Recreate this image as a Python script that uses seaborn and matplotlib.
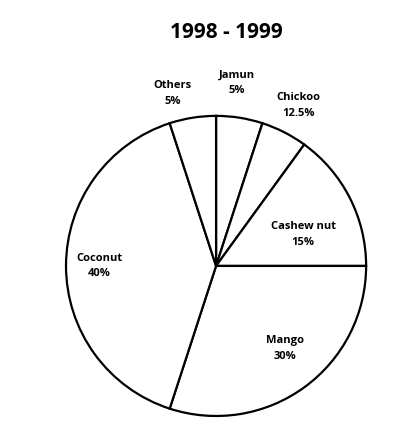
import matplotlib
matplotlib.use("Agg")
import matplotlib.pyplot as plt
import seaborn as sns

# data (slice sizes as drawn, labels as printed)
fruits = ["Jamun", "Chickoo", "Cashew nut", "Mango", "Coconut", "Others"]
shares = [5, 5, 15, 30, 40, 5]
share_labels = ["5%", "12.5%", "15%", "30%", "40%", "5%"]
# label anchor points, in units of pie radius
label_x = [0.14, 0.55, 0.58, 0.46, -0.78, -0.29]
label_y = [1.22, 1.07, 0.21, -0.55, 0.0, 1.15]

sns.set_theme(style="white")
plt.rcParams["font.family"] = ["Open Sans", "DejaVu Sans"]
plt.rcParams["text.color"] = "black"

fig = plt.figure(figsize=(4.05, 4.48), dpi=100)
ax = fig.add_axes([0.163, 0.0714, 0.741, 0.670])

wedges, _ = ax.pie(shares, startangle=90, counterclock=False,
                   colors=["white"] * len(shares),
                   wedgeprops=dict(edgecolor="black", linewidth=1.6))
for w in wedges:
    w.set_clip_on(False)
ax.set_xlim(-1.0, 1.0)
ax.set_ylim(-1.0, 1.0)

for name, lab, x, y in zip(fruits, share_labels, label_x, label_y):
    ax.text(x, y, f"{name}\n{lab}", ha="center", va="center", fontsize=8,
            fontweight="bold", linespacing=1.6, color="black")

fig.text(0.558, 0.928, "1998 - 1999", ha="center", va="center",
         fontsize=15, fontweight="bold", color="black")

fig.savefig("out.png", dpi=100, facecolor="white")
